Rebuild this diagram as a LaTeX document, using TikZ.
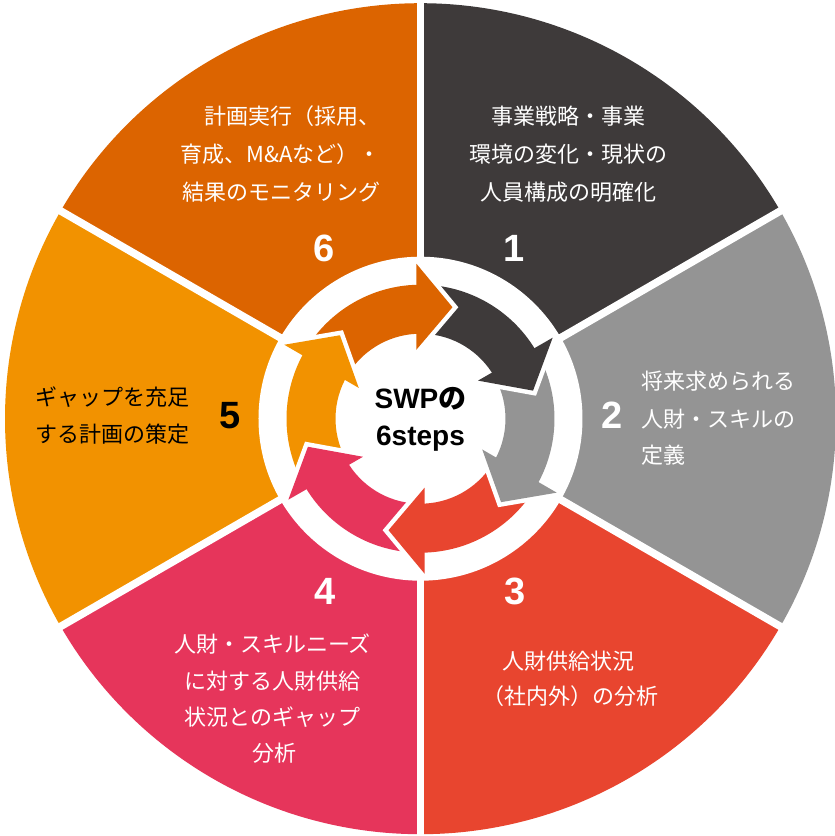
\documentclass[tikz,border=0pt]{standalone}
\usepackage{fontspec}
\newfontfamily\jp{Noto Sans CJK JP}
\newfontfamily\lat{Liberation Sans}
\definecolor{cA}{HTML}{3E3A3A}
\definecolor{cB}{HTML}{949494}
\definecolor{cC}{HTML}{E8452F}
\definecolor{cD}{HTML}{E6355B}
\definecolor{cE}{HTML}{F29200}
\definecolor{cF}{HTML}{DC6400}
\begin{document}
\begin{tikzpicture}[x=1pt,y=1pt,
  jptext/.style={font=\jp\fontsize{22}{26}\selectfont, inner sep=0pt, text=white},
  num/.style={font=\lat\bfseries\fontsize{38}{40}\selectfont, inner sep=0pt, anchor=base, text=white},
  ctext/.style={font=\bfseries\fontsize{28}{30}\selectfont, inner sep=0pt, anchor=base, text=black},
  gapline/.style={white, line width=7.6pt},
  headedge/.style={white, line width=9pt, line join=miter, miter limit=10}]
\useasboundingbox (-420.5,-417.3) rectangle (414.5,418.7);
\fill[white] (-420.5,-417.3) rectangle (414.5,418.7);
% sectors
\foreach \a/\c in {90/cA,30/cB,-30/cC,-90/cD,-150/cE,150/cF}{
  \fill[\c] (0,0) -- (\a:415.5pt) arc[start angle=\a, end angle=\a-60, radius=415.5pt] -- cycle;
}
\foreach \a in {90,30,-30,-90,-150,150}{
  \draw[gapline] (0,0) -- (\a:418pt);
}
\fill[white] (0,0) circle[radius=162pt];
% arrow bodies
\foreach \b/\c in {91.5/cF,31.5/cA,-28.5/cB,-88.5/cC,-148.5/cD,151.5/cE}{
  \fill[\c] ({\b+56}:134pt) arc[start angle=\b+56, end angle=\b-2, radius=134pt]
     -- ({\b-2}:85pt) arc[start angle=\b-2, end angle=\b+56, radius=85pt] -- cycle;
}
% arrow heads
\foreach \b/\c in {91.5/cF,31.5/cA,-28.5/cB,-88.5/cC,-148.5/cD,151.5/cE}{
  \draw[headedge] ({\b}:155pt) -- ({\b-17.5}:116pt) -- ({\b+2}:69pt);
  \fill[\c] ({\b}:155pt) -- ({\b-17.5}:116pt) -- ({\b+2}:69pt) -- cycle;
}
% centre text
\node[ctext] (c1) at (0,10.4) {{\lat SWP}{\jp の}};
\node[ctext] (c2) at (0,-26.3) {\lat 6steps};
% numbers
\node[num] (n1) at (93.5,157.7) {1};
\node[num] (n2) at (191.5,-9.9) {2};
\node[num] (n3) at (94.7,-185.7) {3};
\node[num] (n4) at (-95.5,-185.7) {4};
\node[num, text=black] (n5) at (-190.5,-9.9) {5};
\node[num] (n6) at (-96.5,157.7) {6};
% sector 1
\node[jptext, anchor=base] (s1a) at (148.5,294.3) {事業戦略・事業};
\node[jptext, anchor=base] (s1b) at (148.5,255.9) {環境の変化・現状の};
\node[jptext, anchor=base] (s1c) at (148.5,218.6) {人員構成の明確化};
% sector 2
\node[jptext, anchor=base west] (s2a) at (221,29.6) {将来求められる};
\node[jptext, anchor=base west] (s2b) at (221,-8.7) {人財・スキルの};
\node[jptext, anchor=base west] (s2c) at (221,-45) {定義};
% sector 3
\node[jptext, anchor=base] (s3a) at (148,-250.7) {人財供給状況};
\node[jptext, anchor=base] (s3b) at (150,-285.7) {（社内外）の分析};
% sector 4
\node[jptext, anchor=base] (s4a) at (-148,-233.7) {人財・スキルニーズ};
\node[jptext, anchor=base] (s4b) at (-148,-270.7) {に対する人財供給};
\node[jptext, anchor=base] (s4c) at (-148,-306.4) {状況とのギャップ};
\node[jptext, anchor=base] (s4d) at (-146,-342.7) {分析};
% sector 5
\node[jptext, anchor=base west, text=black] (s5a) at (-385.5,13.6) {ギャップを充足};
\node[jptext, anchor=base west, text=black] (s5b) at (-385.5,-23.7) {する計画の策定};
% sector 6
\node[jptext, anchor=base east] (s6a) at (-39.5,294.3) {計画実行（採用、};
\node[jptext, anchor=base east] (s6b) at (-39.5,255.9) {育成、M\&Aなど）・};
\node[jptext, anchor=base east] (s6c) at (-39.5,218.6) {結果のモニタリング};
\end{tikzpicture}
\end{document}
